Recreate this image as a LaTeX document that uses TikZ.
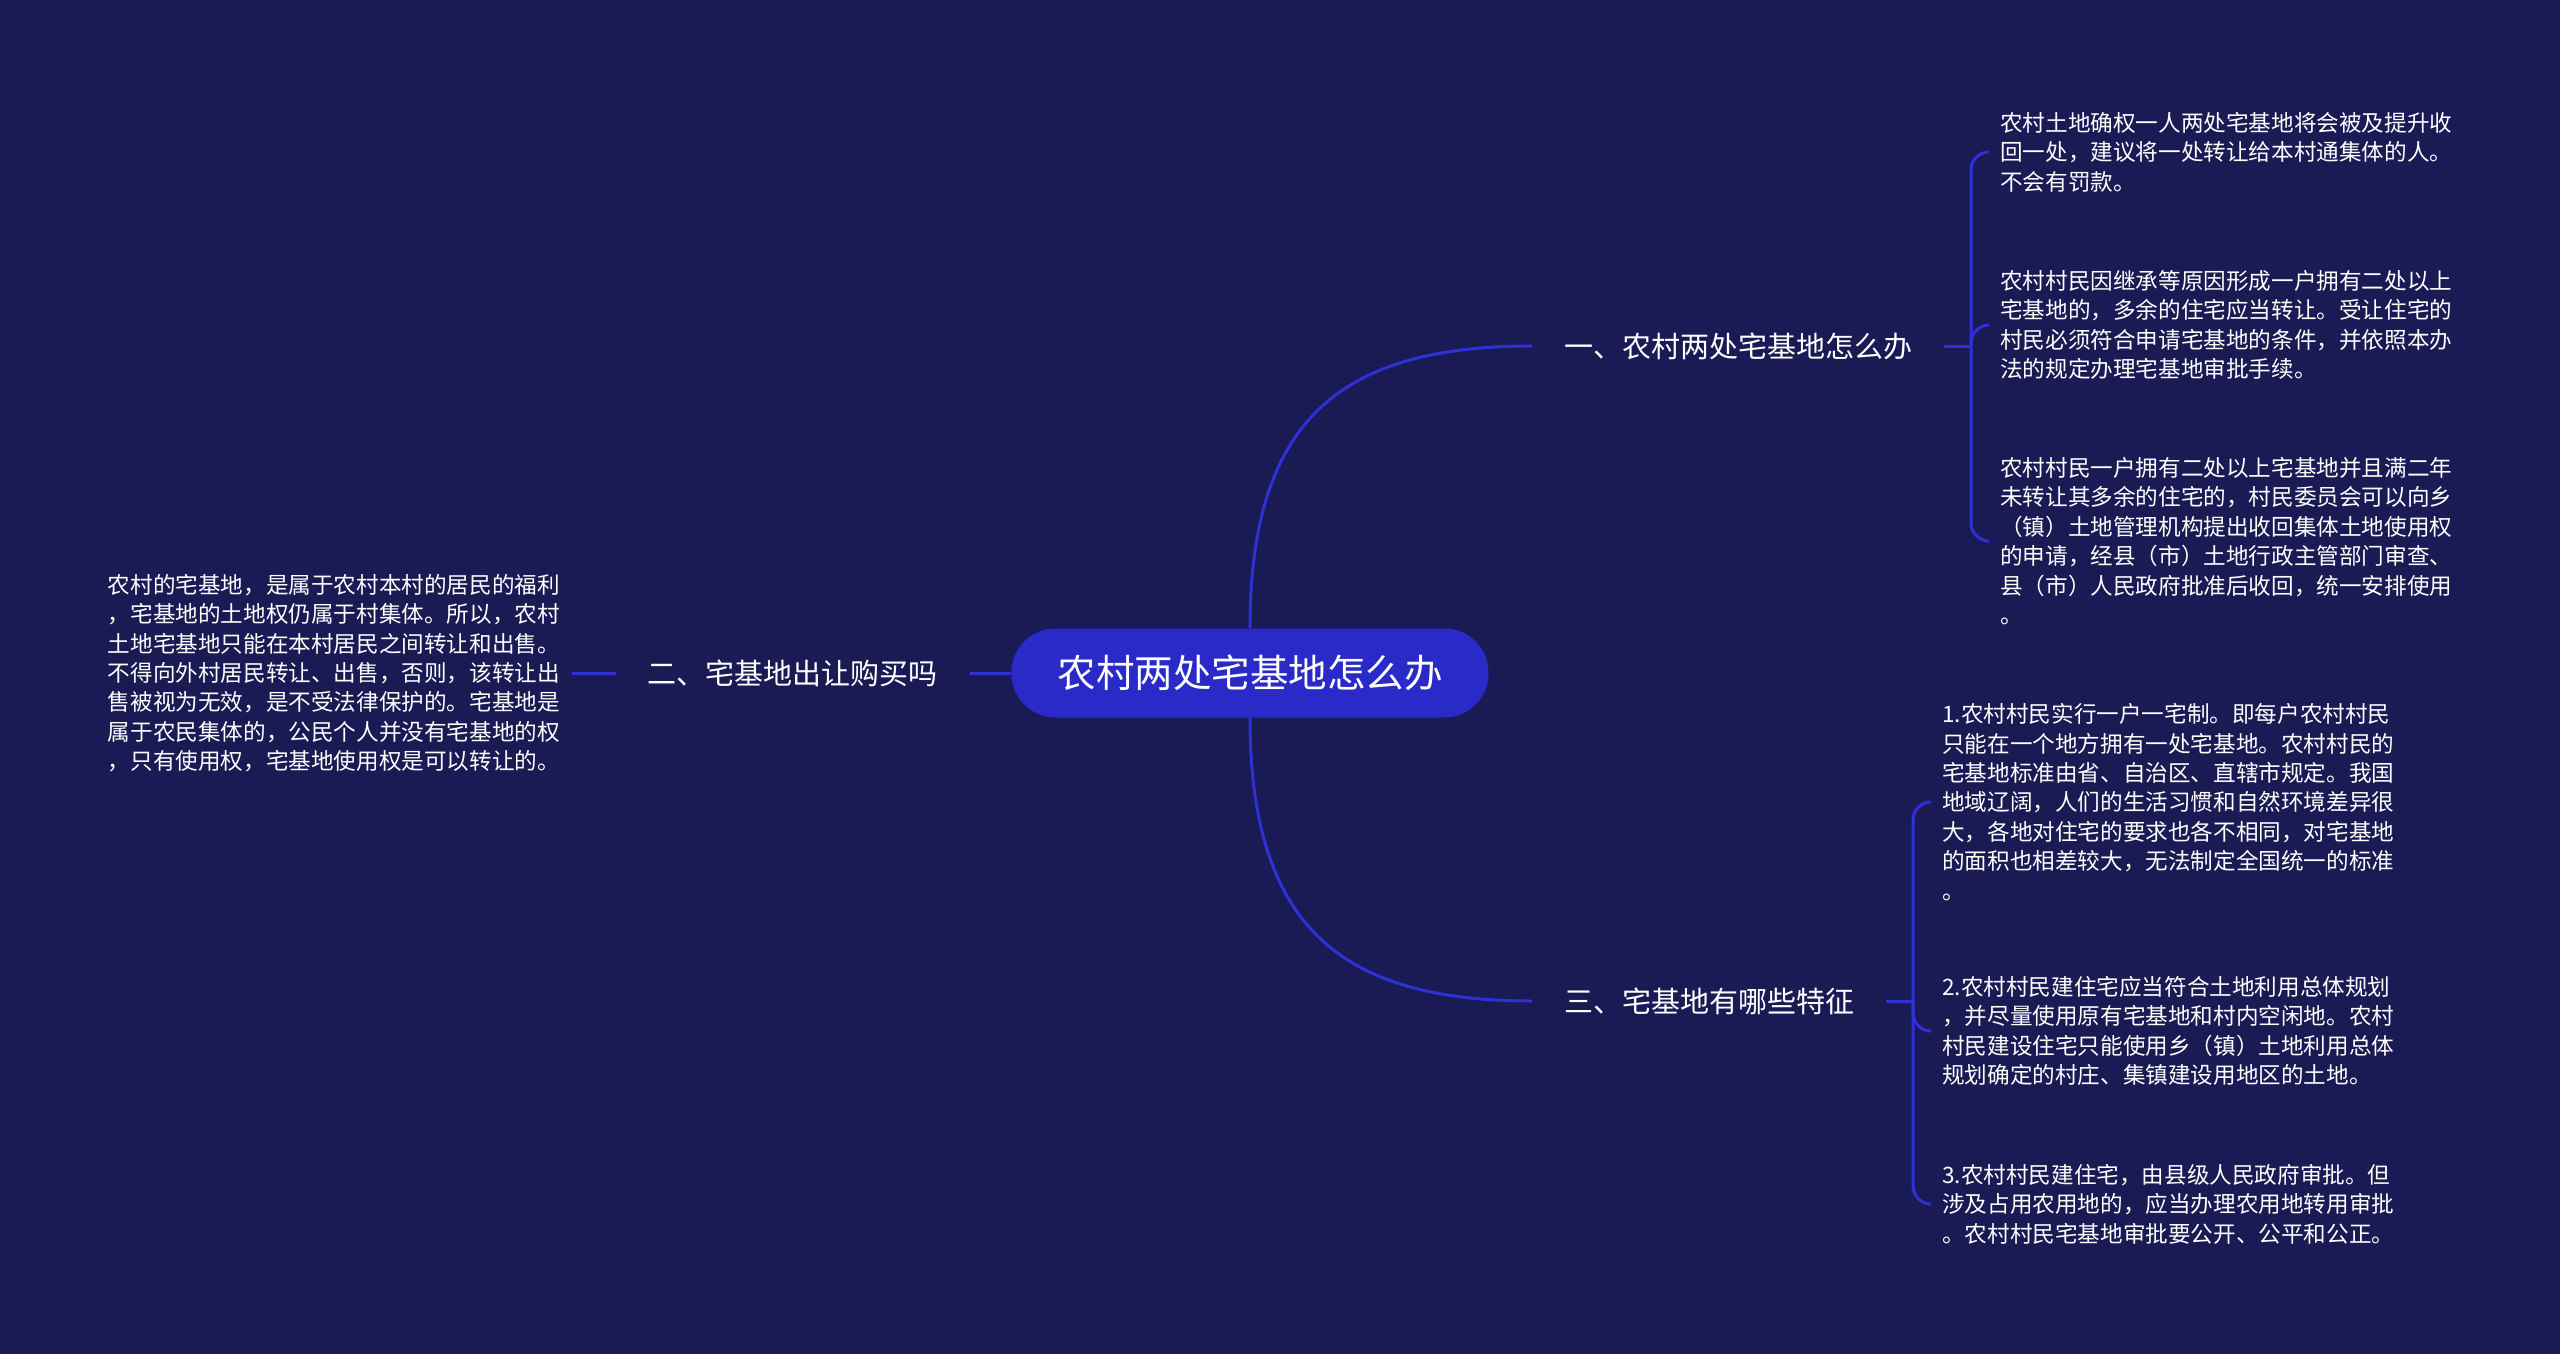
\documentclass[tikz,border=0pt]{standalone}
\usepackage{fontspec}
\newfontfamily\cjk{Noto Sans CJK SC}
\begin{document}
\begin{tikzpicture}[x=1pt, y=-1pt,
  centro/.style={fill=nodoc, rounded corners=44pt, minimum width=477pt, minimum height=89pt,
    text=white, font=\cjk\fontsize{38.5}{46}\selectfont},
  rama/.style={inner xsep=32pt, text=white, font=\cjk\fontsize{29}{35}\selectfont},
  hoja/.style={inner xsep=12pt, align=left, text=white, font=\cjk\fontsize{22.6}{29.4}\selectfont},
  linea/.style={draw=lineac, line width=3pt},
]

\definecolor{fondo}{RGB}{26,26,84}
\definecolor{nodoc}{RGB}{42,42,200}
\definecolor{lineac}{RGB}{48,48,215}

% Fondo
\fill[fondo] (0,0) rectangle (2560,1354);

% === NODO CENTRAL Y RAMAS ===
\node[centro] (c) at (1250,673) {农村两处宅基地怎么办};
\node[rama, anchor=west] (b1) at (1532,346) {一、农村两处宅基地怎么办};
\node[rama, anchor=east] (b2) at (970,673) {二、宅基地出让购买吗};
\node[rama, anchor=west] (b3) at (1532,1001) {三、宅基地有哪些特征};

\coordinate (j1) at (1971,346);
\coordinate (j3) at (1913,1001);

% === HOJAS ===
\node[hoja, anchor=west] (h11) at (1988,152) {农村土地确权一人两处宅基地将会被及提升收\\回一处，建议将一处转让给本村通集体的人。\\不会有罚款。};
\node[hoja, anchor=west] (h12) at (1988,325) {农村村民因继承等原因形成一户拥有二处以上\\宅基地的，多余的住宅应当转让。受让住宅的\\村民必须符合申请宅基地的条件，并依照本办\\法的规定办理宅基地审批手续。};
\node[hoja, anchor=west] (h13) at (1988,541) {农村村民一户拥有二处以上宅基地并且满二年\\未转让其多余的住宅的，村民委员会可以向乡\\（镇）土地管理机构提出收回集体土地使用权\\的申请，经县（市）土地行政主管部门审查、\\县（市）人民政府批准后收回，统一安排使用\\。};

\node[hoja, anchor=east] (h21) at (572,673) {农村的宅基地，是属于农村本村的居民的福利\\，宅基地的土地权仍属于村集体。所以，农村\\土地宅基地只能在本村居民之间转让和出售。\\不得向外村居民转让、出售，否则，该转让出\\售被视为无效，是不受法律保护的。宅基地是\\属于农民集体的，公民个人并没有宅基地的权\\，只有使用权，宅基地使用权是可以转让的。};

\node[hoja, anchor=west] (h31) at (1930,802) {1.农村村民实行一户一宅制。即每户农村村民\\只能在一个地方拥有一处宅基地。农村村民的\\宅基地标准由省、自治区、直辖市规定。我国\\地域辽阔，人们的生活习惯和自然环境差异很\\大，各地对住宅的要求也各不相同，对宅基地\\的面积也相差较大，无法制定全国统一的标准\\。};
\node[hoja, anchor=west] (h32) at (1930,1031) {2.农村村民建住宅应当符合土地利用总体规划\\，并尽量使用原有宅基地和村内空闲地。农村\\村民建设住宅只能使用乡（镇）土地利用总体\\规划确定的村庄、集镇建设用地区的土地。};
\node[hoja, anchor=west] (h33) at (1930,1204) {3.农村村民建住宅，由县级人民政府审批。但\\涉及占用农用地的，应当办理农用地转用审批\\。农村村民宅基地审批要公开、公平和公正。};

% === CONECTORES ===
\draw[linea] (c.north) .. controls +(0,-210) and +(-190,0) .. (b1.west);
\draw[linea] (c.south) .. controls +(0,210) and +(-190,0) .. (b3.west);
\draw[linea] (c.west) -- (b2.east);
\draw[linea] (b2.west) -- (h21.east);

\draw[linea] (b1.east) -- (j1);
\foreach \h in {h11,h12,h13}{ \draw[linea, rounded corners=18pt] (j1) |- (\h.west); }
\draw[linea] (b3.east) -- (j3);
\foreach \h in {h31,h32,h33}{ \draw[linea, rounded corners=18pt] (j3) |- (\h.west); }

\end{tikzpicture}
\end{document}
